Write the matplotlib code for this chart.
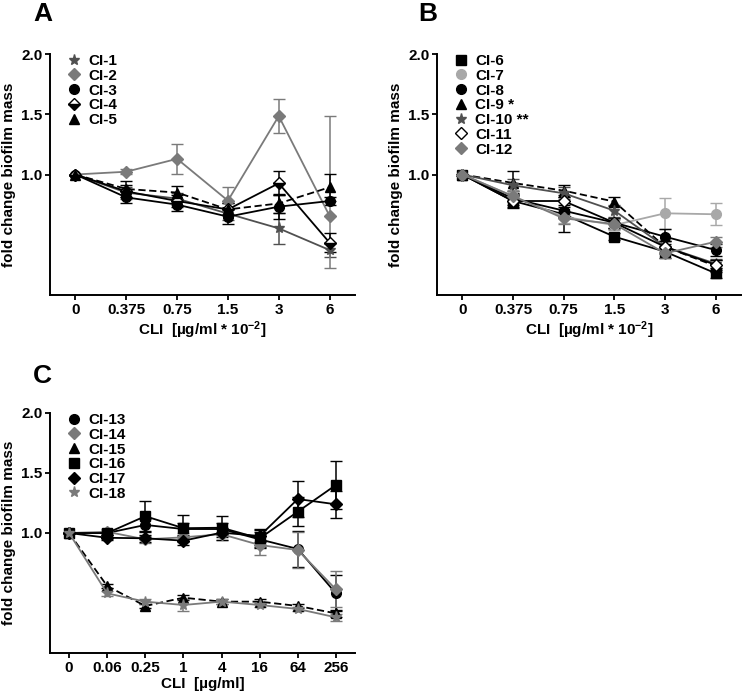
import matplotlib
matplotlib.use("Agg")
import matplotlib.pyplot as plt
from matplotlib.lines import Line2D

plt.rcParams['font.family'] = ['Liberation Sans', 'DejaVu Sans']
plt.rcParams['font.weight'] = 'bold'
plt.rcParams['mathtext.default'] = 'regular'

# panel A
conc_a = ["0", "0.375", "0.75", "1.5", "3", "6"]
ci1 = [1.0, 0.85, 0.80, 0.675, 0.553, 0.373]
ci1_err = [0.0, 0.05, 0.05, 0.05, 0.13, 0.06]
ci2 = [1.0, 1.023, 1.13, 0.783, 1.485, 0.656]
ci2_err = [[0.0, 0.02, 0.125, 0.11, 0.14, 0.43],
	[0.0, 0.02, 0.125, 0.11, 0.14, 0.83]]
ci3 = [1.0, 0.81, 0.75, 0.65, 0.733, 0.78]
ci3_err = [0.0, 0.05, 0.05, 0.06, 0.10, 0.03]
ci4 = [1.0, 0.86, 0.78, 0.71, 0.927, 0.434]
ci4_err = [0.0, 0.05, 0.05, 0.05, 0.10, 0.08]
ci5 = [1.0, 0.88, 0.85, 0.71, 0.76, 0.894]
ci5_err = [0.0, 0.07, 0.055, 0.05, 0.08, 0.11]

# panel B
conc_b = ["0", "0.375", "0.75", "1.5", "3", "6"]
ci6 = [1.0, 0.78, 0.67, 0.484, 0.36, 0.18]
ci6_err = [0.0, 0.06, 0.145, 0.03, 0.05, 0.04]
ci7 = [1.0, 0.82, 0.65, 0.58, 0.678, 0.67]
ci7_err = [0.0, 0.05, 0.05, 0.04, 0.13, 0.09]
ci8 = [1.0, 0.80, 0.70, 0.60, 0.484, 0.373]
ci8_err = [0.0, 0.05, 0.05, 0.04, 0.06, 0.05]
ci9 = [1.0, 0.93, 0.866, 0.775, 0.40, 0.24]
ci9_err = [0.0, 0.10, 0.05, 0.04, 0.05, 0.05]
ci10 = [1.0, 0.91, 0.844, 0.70, 0.40, 0.26]
ci10_err = [0.0, 0.05, 0.05, 0.05, 0.05, 0.04]
ci11 = [1.0, 0.78, 0.78, 0.60, 0.40, 0.25]
ci11_err = [0.0, 0.05, 0.05, 0.04, 0.05, 0.04]
ci12 = [1.0, 0.82, 0.636, 0.59, 0.346, 0.442]
ci12_err = [0.0, 0.04, 0.05, 0.04, 0.04, 0.04]

# panel C
conc_c = ["0", "0.06", "0.25", "1", "4", "16", "64", "256"]
ci13 = [1.0, 1.0, 1.067, 1.033, 1.033, 0.947, 0.867, 0.497]
ci13_err = [0.0, 0.02, 0.05, 0.05, 0.05, 0.06, 0.15, 0.15]
ci14 = [1.0, 1.01, 0.947, 0.964, 0.99, 0.90, 0.858, 0.53]
ci14_err = [0.0, 0.02, 0.03, 0.04, 0.05, 0.08, 0.15, 0.15]
ci15 = [1.0, 0.558, 0.392, 0.461, 0.428, 0.428, 0.392, 0.33]
ci15_err = [0.0, 0.02, 0.02, 0.02, 0.02, 0.02, 0.02, 0.03]
ci16 = [1.0, 1.0, 1.14, 1.04, 1.044, 0.955, 1.178, 1.40]
ci16_err = [0.0, 0.02, 0.13, 0.11, 0.10, 0.08, 0.12, 0.20]
ci17 = [1.0, 0.96, 0.956, 0.936, 1.003, 0.975, 1.283, 1.239]
ci17_err = [0.0, 0.02, 0.03, 0.04, 0.04, 0.05, 0.15, 0.11]
ci18 = [1.0, 0.497, 0.428, 0.40, 0.428, 0.40, 0.367, 0.297]
ci18_err = [0.0, 0.02, 0.02, 0.05, 0.02, 0.02, 0.02, 0.03]

BLACK = 'black'
GRAY = '#7a7a7a'
DARK = '#505050'
LIGHT = '#a8a8a8'

def style(color, marker, ms, ls='-', face=None, alt=None, fill='full'):
	return dict(color=color, marker=marker, ms=ms, ls=ls,
		mfc=face if face else color, mfcalt=alt, fill=fill)

def panel(ax, cats, series, xlabel):
	x = list(range(len(cats)))
	handles = []
	for label, y, err, st in series:
		kw = dict(color=st['color'], marker=st['marker'], markersize=st['ms'],
			markerfacecolor=st['mfc'], markeredgecolor=st['color'] if st['mfc'] != 'white' else BLACK,
			fillstyle=st['fill'], markeredgewidth=1.0)
		if st['mfcalt']:
			kw['markerfacecoloralt'] = st['mfcalt']
		ax.errorbar(x, y, yerr=err, color=st['color'], linestyle=st['ls'],
			linewidth=1.3, capsize=4.5, capthick=1.1, elinewidth=1.1,
			dashes=(4, 2) if st['ls'] == '--' else (None, None),
			**{k: v for k, v in kw.items() if k != 'color'})
		handles.append(Line2D([], [], linestyle='none', **kw))
	ax.set_xlim(-0.5, len(cats) - 0.5)
	ax.set_ylim(0, 2.0)
	ax.set_xticks(x)
	ax.set_xticklabels(cats)
	ax.set_yticks([1.0, 1.5, 2.0])
	ax.set_yticklabels(["1.0", "1.5", "2.0"])
	for s in ['top', 'right']:
		ax.spines[s].set_visible(False)
	for s in ['left', 'bottom']:
		ax.spines[s].set_linewidth(1.4)
	ax.tick_params(axis='both', labelsize=11, width=1.3, length=3.5, pad=2)
	ax.set_ylabel("fold change biofilm mass", fontsize=11, fontweight='bold', labelpad=4)
	ax.set_xlabel(xlabel, fontsize=11, fontweight='bold', labelpad=2)
	ax.legend(handles, [s[0] for s in series], loc='upper left',
		bbox_to_anchor=(0.055, 1.0), frameon=False,
		handlelength=1.0, handletextpad=0.4, labelspacing=0.05,
		borderaxespad=0, borderpad=0, prop={'weight': 'bold', 'size': 11})

fig = plt.figure(figsize=(7.42, 6.96), dpi=100)
W, H = 742.0, 696.0
ax_a = fig.add_axes([50 / W, (H - 295) / H, 305 / W, 241 / H])
ax_b = fig.add_axes([437 / W, (H - 295) / H, 304 / W, 241 / H])
ax_c = fig.add_axes([50 / W, (H - 653) / H, 305 / W, 240 / H])

panel(ax_a, conc_a, [
	("CI-1", ci1, ci1_err, style(DARK, '*', 8)),
	("CI-2", ci2, ci2_err, style(GRAY, 'D', 6)),
	("CI-3", ci3, ci3_err, style(BLACK, 'o', 7)),
	("CI-4", ci4, ci4_err, style(BLACK, 'D', 6, fill='bottom', face=BLACK, alt='white')),
	("CI-5", ci5, ci5_err, style(BLACK, '^', 7, ls='--')),
], "CLI  [µg/ml * 10$^{-2}$]")

panel(ax_b, conc_b, [
	("CI-6", ci6, ci6_err, style(BLACK, 's', 6.5)),
	("CI-7", ci7, ci7_err, style(LIGHT, 'o', 7)),
	("CI-8", ci8, ci8_err, style(BLACK, 'o', 7)),
	("CI-9 *", ci9, ci9_err, style(BLACK, '^', 7, ls='--')),
	("CI-10 **", ci10, ci10_err, style(DARK, '*', 8)),
	("CI-11", ci11, ci11_err, style(BLACK, 'D', 6, face='white')),
	("CI-12", ci12, ci12_err, style(GRAY, 'D', 6)),
], "CLI  [µg/ml * 10$^{-2}$]")

panel(ax_c, conc_c, [
	("CI-13", ci13, ci13_err, style(BLACK, 'o', 7)),
	("CI-14", ci14, ci14_err, style(GRAY, 'D', 6)),
	("CI-15", ci15, ci15_err, style(BLACK, '^', 7, ls='--')),
	("CI-16", ci16, ci16_err, style(BLACK, 's', 6.5)),
	("CI-17", ci17, ci17_err, style(BLACK, 'D', 6)),
	("CI-18", ci18, ci18_err, style(GRAY, '*', 8)),
], "CLI  [µg/ml]")

for letter, px, py in [("A", 33, 14), ("B", 418, 14), ("C", 33, 376)]:
	fig.text(px / W, 1 - py / H, letter, fontsize=19, fontweight='bold', va='center', ha='left')

fig.savefig("out.png", dpi=100)
